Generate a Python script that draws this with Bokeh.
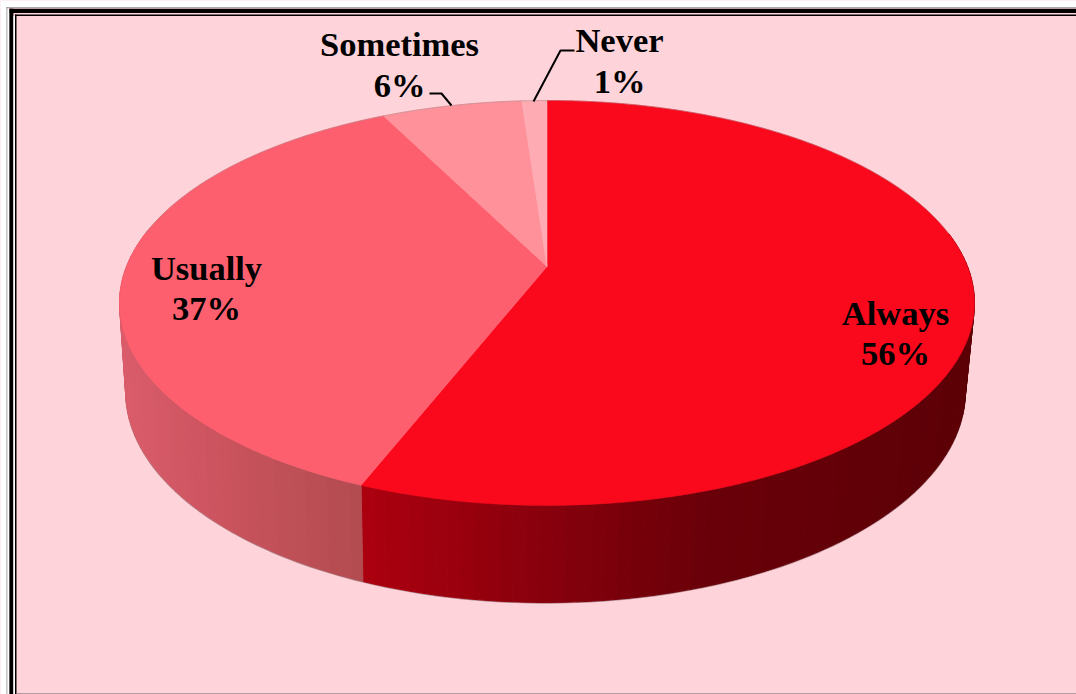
import numpy as np
from bokeh.plotting import figure
from bokeh.models import Range1d
from bokeh.core.properties import value
from bokeh.embed import file_html
from bokeh.resources import INLINE

categories = ["Always", "Usually", "Sometimes", "Never"]
labels_pct = ["56%", "37%", "6%", "1%"]
shares = [56.0, 36.55, 6.32, 1.13]
top_colors = ["#f9091b", "#fe5f6e", "#fe9199", "#feabb3"]

PINK = "#fed3d9"
W, H = 1076, 694

p = figure(width=W, height=H, output_backend="svg", toolbar_location=None,
           x_range=Range1d(0, W), y_range=Range1d(H, 0),
           min_border=0, background_fill_color=PINK, border_fill_color=PINK,
           outline_line_color=None)
p.axis.visible = False
p.grid.visible = False

# Perspective projection of the pie's top and bottom discs
C = 0.18
TOP = dict(xc=546.5, R=420.5, a=-148.0, b=266.0)
BOT = dict(xc=545.0, R=413.0, a=-141.0, b=352.6)


def project(theta_deg, disc, r=1.0):
    t = np.radians(theta_deg)
    u, v = r * np.sin(t), r * np.cos(t)
    d = 1 + C * v
    return disc["xc"] + disc["R"] * u / d, (disc["a"] * v + disc["b"]) / d


cum = np.concatenate([[0], np.cumsum(shares)]) / sum(shares) * 360.0

# Side wall colour ramps, by screen x
ALWAYS_X = [362, 450, 550, 700, 965]
ALWAYS_RGB = [(172, 0, 16), (155, 0, 14), (134, 0, 12), (106, 0, 9), (92, 0, 6)]
USUALLY_X = [125, 200, 280, 362]
USUALLY_RGB = [(218, 92, 107), (206, 85, 97), (192, 80, 88), (178, 76, 80)]


def ramp(x, xs, rgb):
    return "#%02x%02x%02x" % tuple(
        int(round(np.interp(x, xs, [c[i] for c in rgb]))) for i in range(3))


def draw_wall(start, stop, xs, rgb):
    edges = np.linspace(start, stop, int((stop - start) / 1.5) + 2)
    for a, b in zip(edges[:-1], edges[1:]):
        tx, ty = project(np.array([a, b]), TOP)
        bx, by = project(np.array([b, a]), BOT)
        col = ramp(0.5 * (tx.mean() + bx.mean()), xs, rgb)
        p.patch(np.r_[tx, bx], np.r_[ty, by], fill_color=col,
                line_color=col, line_width=1)


# Soft dark edge below the wall
rim = np.linspace(80, 280, 200)
rx, ry = project(rim, BOT)
p.line(rx, ry + 0.6, line_color="#8a6a6e", line_width=1.2, line_alpha=0.7)

draw_wall(80, cum[1], ALWAYS_X, ALWAYS_RGB)
draw_wall(cum[1], 282, USUALLY_X, USUALLY_RGB)

# Top face
for i, c in enumerate(top_colors):
    th = np.linspace(cum[i], cum[i + 1], max(int(cum[i + 1] - cum[i]) * 2, 4))
    ex, ey = project(th, TOP)
    cx, cy = project(0.0, TOP, r=0.0)
    p.patch(np.r_[cx, ex], np.r_[cy, ey], fill_color=c, line_color=c, line_width=0.6)

# Faint grey rim along the back of the top face
th = np.linspace(-80, 80, 200)
ex, ey = project(th, TOP)
p.line(ex, ey, line_color="#a88a90", line_width=0.8, line_alpha=0.6)

# Page outside the frame, then the double frame
p.quad(left=[0, 0], right=[1076, 7], top=[0, 0], bottom=[7.5, 694],
       fill_color="#ffffff", line_color=None)
p.quad(left=[6, 6], right=[7, 1076], top=[6.5, 6.5], bottom=[694, 7.2],
       fill_color="#8c8c8c", line_color=None)
p.quad(left=[8.7, 14.5], right=[12.9, 16], top=[8.3, 14], bottom=[694, 694],
       fill_color="#000000", line_color=None)
p.quad(left=[8.7, 14.5], right=[1076, 1076], top=[8.3, 14], bottom=[12.6, 15.4],
       fill_color="#000000", line_color=None)
p.quad(left=[7, 12.9], right=[8.7, 14.5], top=[8.3, 15.4], bottom=[694, 694],
       fill_color="#ffffff", line_color=None)
p.quad(left=[16], right=[1076], top=[692.8], bottom=[694],
       fill_color="#9a8a8c", line_color=None)

# Leader lines
p.line([429, 441, 451], [93, 93, 105], line_color="#000000", line_width=2)
p.line([574, 560, 533], [50, 50, 101], line_color="#000000", line_width=2)

# Labels
label_x = [895, 206, 399, 619]
name_y = [312, 267, 43, 39]
pct_y = [352, 307, 84, 80]
for name, pct, x, y1, y2 in zip(categories, labels_pct, label_x, name_y, pct_y):
    p.text([x, x], [y1, y2], text=[name, pct], text_align="center",
           text_baseline="alphabetic", text_color="#000000",
           text_font=value("Liberation Serif"), text_font_style="bold",
           text_font_size="34.5px")

open("out.html", "w").write(file_html(p, INLINE))
